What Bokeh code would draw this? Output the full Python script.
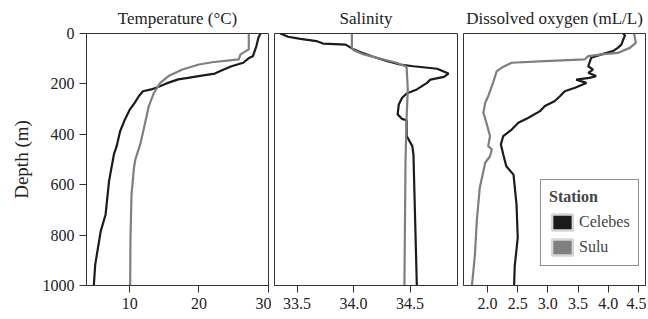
from bokeh.plotting import figure
from bokeh.layouts import row
from bokeh.models import Range1d, FixedTicker, PrintfTickFormatter, Legend, LegendItem
from bokeh.embed import file_html
from bokeh.resources import INLINE

# ---- data ----
temp_celebes_depth = [0, 16, 50, 90, 96, 116, 130, 150, 159, 167, 176, 182, 198, 212, 222, 229, 249, 275, 302, 341, 388, 447, 480, 586, 718, 784, 917, 1000]
temp_celebes = [28.9, 28.6, 28.3, 27.8, 27.3, 26.4, 24.7, 23.0, 22.3, 20.4, 18.4, 17.0, 15.3, 14.1, 13.1, 11.9, 11.3, 10.7, 10.0, 9.3, 8.6, 8.1, 7.7, 7.0, 6.5, 5.8, 5.0, 4.8]
temp_sulu_depth = [0, 63, 83, 103, 114, 123, 143, 169, 196, 235, 288, 381, 440, 500, 533, 639, 810, 1000]
temp_sulu = [27.2, 27.2, 26.0, 25.75, 21.9, 20.0, 17.6, 15.6, 14.4, 13.5, 12.75, 12.0, 11.5, 10.8, 10.6, 10.25, 10.1, 10.05]

sal_celebes_depth = [0, 3, 13, 21, 30, 40, 44, 63, 79, 93, 110, 123, 130, 140, 159, 172, 183, 196, 222, 238, 255, 282, 321, 339, 344, 407, 447, 480, 1000]
sal_celebes = [33.35, 33.37, 33.42, 33.53, 33.67, 33.73, 33.93, 34.00, 34.09, 34.18, 34.30, 34.41, 34.53, 34.74, 34.84, 34.80, 34.68, 34.65, 34.56, 34.47, 34.43, 34.40, 34.39, 34.43, 34.47, 34.47, 34.52, 34.53, 34.56]
sal_sulu_depth = [0, 57, 66, 83, 100, 116, 130, 136, 222, 328, 500, 1000]
sal_sulu = [33.985, 33.985, 34.0, 34.09, 34.24, 34.38, 34.46, 34.47, 34.48, 34.47, 34.46, 34.45]

oxy_celebes_depth = [0, 8, 24, 44, 57, 70, 83, 96, 116, 130, 143, 156, 169, 176, 183, 196, 215, 229, 249, 269, 288, 308, 335, 354, 381, 407, 440, 480, 527, 560, 679, 811, 923, 1000]
oxy_celebes = [4.25, 4.28, 4.25, 4.22, 4.16, 4.08, 3.89, 3.72, 3.69, 3.67, 3.75, 3.67, 3.80, 3.69, 3.47, 3.64, 3.45, 3.28, 3.20, 3.11, 2.95, 2.87, 2.67, 2.51, 2.40, 2.26, 2.22, 2.26, 2.31, 2.43, 2.48, 2.50, 2.45, 2.44]
oxy_sulu_depth = [0, 37, 57, 77, 83, 90, 103, 110, 116, 136, 150, 196, 249, 275, 315, 354, 407, 447, 460, 487, 513, 612, 745, 877, 1000]
oxy_sulu = [4.43, 4.46, 4.36, 4.16, 3.89, 3.67, 3.61, 2.95, 2.40, 2.23, 2.15, 2.09, 2.01, 1.96, 1.93, 1.98, 2.04, 2.01, 2.07, 2.04, 1.96, 1.87, 1.82, 1.79, 1.74]

stations = ["Celebes", "Sulu"]
colors = ["#1c1a1b", "#7f7f7f"]
temp_ticks = [10, 20, 30]
sal_ticks = [33.5, 34.0, 34.5]
oxy_ticks = [2.0, 2.5, 3.0, 3.5, 4.0, 4.5]
depth_ticks = [0, 200, 400, 600, 800, 1000]

FONT = "Liberation Serif"


def make_fig(title, xr, ticks, fmt, left, right, fw, show_y):
    p = figure(frame_width=fw, frame_height=252, output_backend="svg", toolbar_location=None,
               x_range=Range1d(*xr), y_range=Range1d(1000, 0),
               y_axis_location="left" if show_y else None,
               min_border_left=left, min_border_right=right, min_border_top=30, min_border_bottom=10)
    p.title.text = title
    p.title.align = "center"
    p.title.text_font = FONT
    p.title.text_font_size = "17px"
    p.title.text_font_style = "normal"
    p.title.text_color = "#222222"
    p.title.standoff = 12
    p.xgrid.visible = False
    p.ygrid.visible = False
    p.outline_line_color = "#333333"
    p.outline_line_width = 1
    p.background_fill_color = "white"
    p.border_fill_color = "white"
    for ax in p.axis:
        ax.axis_line_color = "#333333"
        ax.major_tick_line_color = "#333333"
        ax.major_tick_out = 7
        ax.major_tick_in = 0
        ax.minor_tick_line_color = None
        ax.major_label_text_font = FONT
        ax.major_label_text_font_size = "16px"
        ax.major_label_text_color = "#222222"
        ax.major_label_standoff = 5
    p.xaxis.ticker = FixedTicker(ticks=ticks)
    if fmt:
        p.xaxis.formatter = PrintfTickFormatter(format=fmt)
    if show_y:
        p.yaxis.ticker = FixedTicker(ticks=depth_ticks)
        p.yaxis.axis_label = "Depth (m)"
        p.yaxis.axis_label_text_font = FONT
        p.yaxis.axis_label_text_font_size = "19px"
        p.yaxis.axis_label_text_font_style = "normal"
        p.yaxis.axis_label_text_color = "#222222"
        p.yaxis.axis_label_standoff = 8
    return p


p1 = make_fig("Temperature (\u00b0C)", (3.74, 30.05), temp_ticks, None, 86, 3, 182, True)
p2 = make_fig("Salinity", (33.30, 34.92), sal_ticks, "%.1f", 3, 3, 183, False)
p3 = make_fig("Dissolved oxygen (mL/L)", (1.60, 4.62), oxy_ticks, "%.1f", 3, 1, 182, False)

p1.line(temp_celebes, temp_celebes_depth, line_color=colors[0], line_width=2.2)
p1.line(temp_sulu, temp_sulu_depth, line_color=colors[1], line_width=2.2)
p2.line(sal_celebes, sal_celebes_depth, line_color=colors[0], line_width=2.2)
p2.line(sal_sulu, sal_sulu_depth, line_color=colors[1], line_width=2.2)
p3.line(oxy_celebes, oxy_celebes_depth, line_color=colors[0], line_width=2.2)
p3.line(oxy_sulu, oxy_sulu_depth, line_color=colors[1], line_width=2.2)

nan = float("nan")
items = []
for name, c in zip(stations, colors):
    q = p3.quad(left=[nan], right=[nan], top=[nan], bottom=[nan], fill_color=c, line_color="#d6d6d6", line_width=2.5)
    items.append(LegendItem(label=name, renderers=[q]))

legend = Legend(items=items, title="Station", location=(77, 19))
legend.title_text_font = FONT
legend.title_text_font_size = "16px"
legend.title_text_font_style = "bold"
legend.title_standoff = 6
legend.label_text_font = FONT
legend.label_text_font_size = "16px"
legend.glyph_width = 26
legend.glyph_height = 20
legend.border_line_color = "#222222"
legend.border_line_width = 1.5
legend.padding = 8
legend.spacing = 5
legend.margin = 0
legend.label_standoff = 4
p3.add_layout(legend)

layout = row(p1, p2, p3)
open("out.html", "w").write(file_html(layout, INLINE))
